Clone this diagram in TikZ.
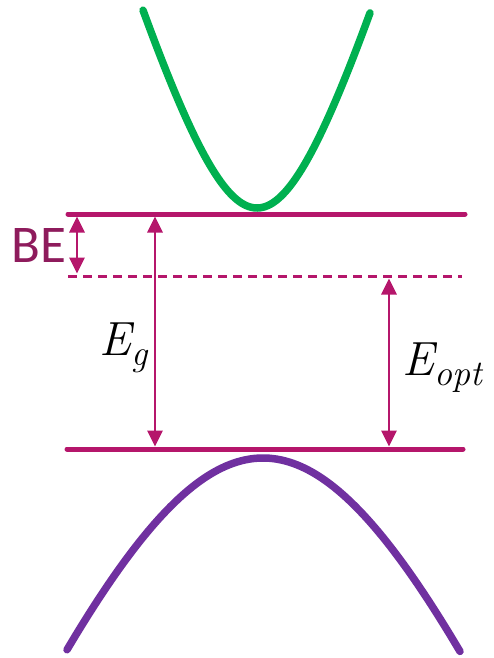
\documentclass[tikz,border=0pt]{standalone}
\usepackage{fontspec}
\newfontfamily\befont{Carlito}
\usetikzlibrary{arrows.meta}
\definecolor{mag}{HTML}{B5166B}
\definecolor{betext}{HTML}{8E1B5C}
\definecolor{grn}{HTML}{00B050}
\definecolor{pur}{HTML}{7030A0}
\newcommand{\subtxt}[1]{\raisebox{-0.22em}{\fontsize{36}{36}\selectfont #1}}
\begin{document}
\begin{tikzpicture}[x=1pt,y=-1pt,
  level/.style={mag,line width=5pt,line cap=round},
  dlevel/.style={mag,line width=3pt,dash pattern=on 9pt off 6pt},
  gaparrow/.style={mag,line width=2.7pt,{Triangle[width=15pt,length=16pt]}-{Triangle[width=15pt,length=16pt]}},
  band/.style={line width=7.5pt,line cap=round},
  mathlbl/.style={font=\fontsize{48}{48}\selectfont\itshape,inner sep=0pt}]
\useasboundingbox (0,0) rectangle (493,658);
% bands
\draw[band,grn] plot[domain=143:370,samples=100,smooth] (\x,{208-267*(sqrt(1+((\x-257)/80)^2)-1)});
\draw[band,pur] plot[domain=67:460,samples=100,smooth] (\x,{458+500*(sqrt(1+((\x-263)/205)^2)-1)});
% levels
\coordinate (cl) at (68,214); \coordinate (cr) at (465,214);
\coordinate (dl) at (68,276); \coordinate (dr) at (462,276);
\coordinate (vl) at (67,449); \coordinate (vr) at (463,449);
\draw[level] (cl) -- (cr);
\draw[dlevel] (dl) -- (dr);
\draw[level] (vl) -- (vr);
% arrows
\coordinate (be1) at (77,216.5); \coordinate (be2) at (77,273.5);
\coordinate (eg1) at (155,216.5); \coordinate (eg2) at (155,446.5);
\coordinate (eo1) at (389,278.5); \coordinate (eo2) at (389,446.5);
\draw[gaparrow] (be1) -- (be2);
\draw[gaparrow] (eg1) -- (eg2);
\draw[gaparrow] (eo1) -- (eo2);
% labels
\node[betext,font=\befont\fontsize{53}{53}\selectfont,anchor=center] (be) at (39,245) {BE};
\node[mathlbl,anchor=base west] (eg) at (99,355) {E\subtxt{g}};
\node[mathlbl,anchor=base west] (eo) at (402,375) {E\subtxt{opt}};
\end{tikzpicture}
\end{document}
